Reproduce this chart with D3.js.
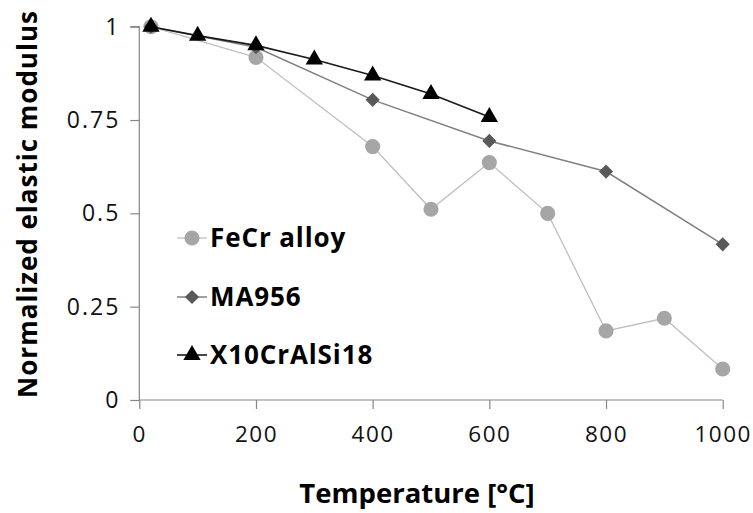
<!DOCTYPE html>
<html>
<head>
<meta charset="utf-8">
<script src="https://cdn.jsdelivr.net/npm/d3@7/dist/d3.min.js"></script>
<style>
  html, body { margin: 0; padding: 0; background: #fff; }
  svg { display: block; }
  text { font-family: "Open Sans", "Liberation Sans", sans-serif; }
</style>
</head>
<body>
<svg id="chart" width="753" height="513"></svg>
<script>
// Normalized elastic modulus vs temperature for three alloys
const feCrTemp = [20, 200, 400, 500, 600, 700, 800, 900, 1000];
const feCrModulus = [1.0, 0.918, 0.679, 0.511, 0.636, 0.5, 0.185, 0.219, 0.083];

const ma956Temp = [20, 200, 400, 600, 800, 1000];
const ma956Modulus = [1.0, 0.945, 0.804, 0.694, 0.612, 0.417];

const x10Temp = [20, 100, 200, 300, 400, 500, 600];
const x10Modulus = [1.0, 0.976, 0.95, 0.912, 0.869, 0.82, 0.758];

const xTicks = [0, 200, 400, 600, 800, 1000];
const xTickLabels = ["0", "200", "400", "600", "800", "1000"];
const yTicks = [0, 0.25, 0.5, 0.75, 1];
const yTickLabels = ["0", "0.25", "0.5", "0.75", "1"];

const seriesNames = ["FeCr alloy", "MA956", "X10CrAlSi18"];

const series = [
  { name: seriesNames[0], temp: feCrTemp, val: feCrModulus, symbol: d3.symbolCircle, size: 180, fill: "#a6a6a6", stroke: "#bfbfbf", lw: 1.3 },
  { name: seriesNames[1], temp: ma956Temp, val: ma956Modulus, symbol: d3.symbolDiamond2, size: 128, fill: "#595959", stroke: "#808080", lw: 1.5 },
  { name: seriesNames[2], temp: x10Temp, val: x10Modulus, symbol: d3.symbolTriangle, size: 130, fill: "#000000", stroke: "#1a1a1a", lw: 1.6 }
];

const svg = d3.select("#chart");
const axisColor = "#868686";

const x = d3.scaleLinear().domain([0, 1000]).range([139.3, 722.7]);
const y = d3.scaleLinear().domain([0, 1]).range([400, 26.7]);

// Y axis
const yAxis = d3.axisLeft(y).tickValues(yTicks).tickSize(9).tickPadding(10)
  .tickFormat((d, i) => yTickLabels[i]);
const gy = svg.append("g").attr("transform", `translate(${x(0)},0)`).call(yAxis);
gy.select(".domain").attr("stroke", axisColor).attr("stroke-width", 1.2).attr("d", `M-9,${y(1)}H0V${y(0)}`);
gy.selectAll(".tick line").attr("stroke", axisColor).attr("stroke-width", 1.2);
gy.selectAll(".tick text").attr("font-size", 23).attr("letter-spacing", 2)
  .attr("fill", "#111").attr("font-family", "Open Sans");

// X axis
const xAxis = d3.axisBottom(x).tickValues(xTicks).tickSize(9).tickPadding(17)
  .tickFormat((d, i) => xTickLabels[i]);
const gx = svg.append("g").attr("transform", `translate(0,${y(0)})`).call(xAxis);
gx.select(".domain").attr("stroke", axisColor).attr("stroke-width", 1.2).attr("d", `M${x(0)},0H${x(1000)}`);
gx.selectAll(".tick line").attr("stroke", axisColor).attr("stroke-width", 1.2);
gx.selectAll(".tick text").attr("font-size", 22.5).attr("letter-spacing", 1.5)
  .attr("fill", "#111").attr("font-family", "Open Sans");

// Series lines and markers
const line = d3.line().x(d => x(d[0])).y(d => y(d[1]));
series.forEach(s => {
  const pts = s.temp.map((t, i) => [t, s.val[i]]);
  svg.append("path").datum(pts)
    .attr("d", line)
    .attr("fill", "none")
    .attr("stroke", s.stroke)
    .attr("stroke-width", s.lw);
  svg.append("g").selectAll("path").data(pts).join("path")
    .attr("transform", d => `translate(${x(d[0])},${y(d[1])})`)
    .attr("d", d3.symbol().type(s.symbol).size(s.size))
    .attr("fill", s.fill);
});

// Legend
const legendY = [238, 297, 355];
series.forEach((s, i) => {
  const g = svg.append("g").attr("transform", `translate(192,${legendY[i]})`);
  g.append("line").attr("x1", -15).attr("x2", 15).attr("y1", 0).attr("y2", 0)
    .attr("stroke", s.stroke).attr("stroke-width", s.lw);
  g.append("path").attr("d", d3.symbol().type(s.symbol).size(s.size)).attr("fill", s.fill);
  g.append("text").attr("x", 18).attr("y", 9)
    .attr("font-size", 26).attr("font-weight", "bold").attr("letter-spacing", 0.9).attr("fill", "#000")
    .text(s.name);
});

// Axis titles
svg.append("text")
  .attr("x", 417).attr("y", 503)
  .attr("text-anchor", "middle")
  .attr("font-size", 27.5).attr("font-weight", "bold").attr("fill", "#000")
  .text("Temperature [°C]");

svg.append("text")
  .attr("transform", `translate(37,204) rotate(-90)`)
  .attr("text-anchor", "middle")
  .attr("font-size", 26).attr("font-weight", "bold").attr("letter-spacing", 1).attr("fill", "#000")
  .text("Normalized elastic modulus");
</script>
</body>
</html>
